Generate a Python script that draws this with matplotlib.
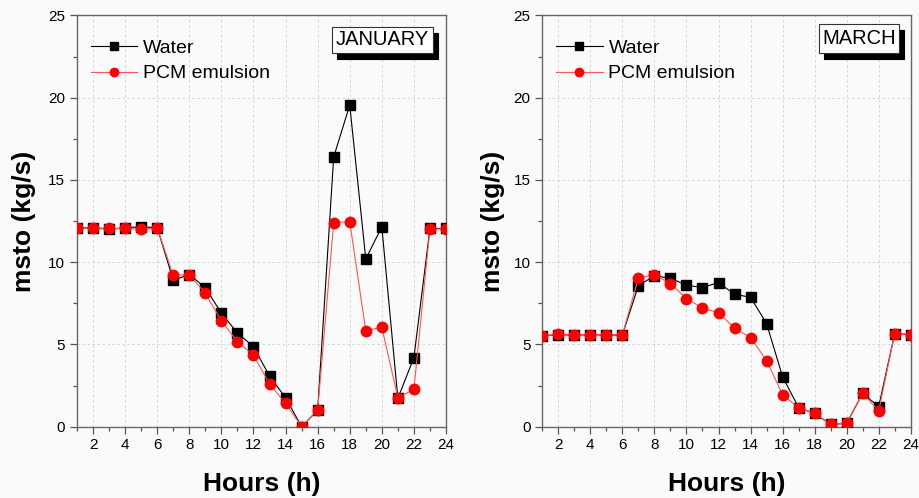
import matplotlib
matplotlib.use("Agg")
import matplotlib.pyplot as plt
from matplotlib.patches import Rectangle
from matplotlib.ticker import MultipleLocator

plt.rcParams['font.family'] = ['Liberation Sans', 'DejaVu Sans']

hours = list(range(1, 25))

jan_water = [12.08, 12.1, 12.0, 12.1, 12.15, 12.1, 8.9, 9.25, 8.45, 6.9, 5.7, 4.86,
             3.08, 1.76, 0.0, 1.0, 16.4, 19.55, 10.2, 12.15, 1.72, 4.2, 12.05, 12.05]
jan_pcm = [12.08, 12.08, 12.05, 12.05, 12.0, 12.08, 9.2, 9.25, 8.1, 6.44, 5.16, 4.35,
           2.6, 1.42, 0.0, 1.0, 12.4, 12.47, 5.83, 6.05, 1.76, 2.27, 12.02, 12.02]

mar_water = [5.52, 5.6, 5.56, 5.6, 5.56, 5.58, 8.58, 9.17, 9.03, 8.6, 8.46, 8.76,
             8.05, 7.87, 6.27, 3.04, 1.16, 0.81, 0.14, 0.2, 2.03, 1.22, 5.66, 5.6]
mar_pcm = [5.52, 5.62, 5.56, 5.6, 5.58, 5.58, 9.05, 9.23, 8.7, 7.79, 7.22, 6.92,
           6.0, 5.42, 4.02, 1.95, 1.14, 0.81, 0.14, 0.22, 2.03, 0.95, 5.66, 5.6]

months = ["JANUARY", "MARCH"]
series = [(jan_water, jan_pcm), (mar_water, mar_pcm)]

bg = '#fafafa'
fig = plt.figure(figsize=(9.19, 4.98), dpi=100, facecolor=bg)
ax1 = fig.add_axes([0.0838, 0.1432, 0.4015, 0.8257])
ax2 = fig.add_axes([0.5901, 0.1432, 0.4009, 0.8257])
# month box extents in axes fraction: x0, x1, y0, y1
boxes = [(0.691, 0.965, 0.909, 0.972), (0.751, 0.968, 0.909, 0.979)]
ylab_x = [-0.111, -0.101]

for ax, (water, pcm), month, (x0, x1, y0, y1), lx in zip(
        [ax1, ax2], series, months, boxes, ylab_x):
    ax.set_facecolor(bg)
    ax.plot(hours, water, color='black', lw=0.8, marker='s', ms=7,
            label='Water', zorder=3)
    ax.plot(hours, pcm, color='#ff5555', lw=0.8, marker='o', ms=7.5,
            mfc='red', mec='red', label='PCM emulsion', zorder=4)
    ax.set_xlim(1, 24)
    ax.set_ylim(0, 25)
    ax.xaxis.set_major_locator(MultipleLocator(2))
    ax.xaxis.set_minor_locator(MultipleLocator(1))
    ax.yaxis.set_major_locator(MultipleLocator(5))
    ax.yaxis.set_minor_locator(MultipleLocator(2.5))
    ax.tick_params(which='major', direction='out', length=5, width=0.9,
                   color='#555555', labelsize=11, labelcolor='black')
    ax.tick_params(which='minor', direction='out', length=3, width=0.9,
                   color='#555555')
    for s in ax.spines.values():
        s.set_color('#666666')
        s.set_linewidth(1.0)
    ax.grid(True, which='major', ls=(0, (3, 3)), lw=0.6, color='#cfcfcf')
    ax.set_axisbelow(True)
    ax.set_xlabel('Hours (h)', fontsize=19, fontweight='bold', labelpad=14)
    ax.set_ylabel('msto (kg/s)', fontsize=19, fontweight='bold')
    ax.yaxis.set_label_coords(lx, 0.5)
    ax.legend(loc='upper left', bbox_to_anchor=(0.0, 0.975), frameon=False,
              fontsize=14, handlelength=2.4, handletextpad=0.3, markerscale=0.8,
              labelspacing=0.4, borderaxespad=0.3)
    # shadow box, then the white box on top
    dx, dy = 5 / 369, 6 / 411
    ax.add_patch(Rectangle((x0 + dx, y0 - dy), x1 - x0, y1 - y0, transform=ax.transAxes,
                           fc='black', ec='black', lw=0.8, zorder=5))
    ax.add_patch(Rectangle((x0, y0), x1 - x0, y1 - y0, transform=ax.transAxes,
                           fc='white', ec='#333333', lw=0.8, zorder=6))
    ax.text((x0 + x1) / 2, (y0 + y1) / 2, month, transform=ax.transAxes,
            ha='center', va='center', fontsize=14.5, zorder=7)

fig.savefig('out.png', dpi=100, facecolor=bg)
